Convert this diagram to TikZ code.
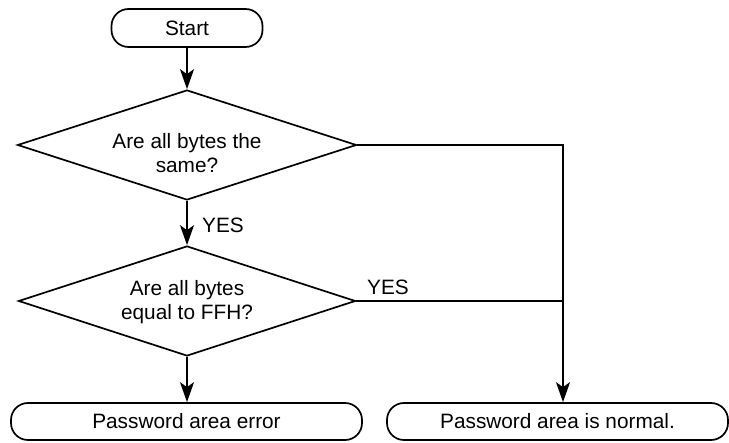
\documentclass[tikz,border=0pt]{standalone}
\usepackage{fontspec}
\setmainfont{Liberation Sans}
\usetikzlibrary{shapes.geometric,arrows.meta}
\begin{document}
\begin{tikzpicture}[x=1pt,y=-1pt,
  every node/.style={font=\fontsize{20.8}{24}\selectfont},
  term/.style={draw,line width=1.7pt,rounded corners=17pt,inner sep=0pt},
  decision/.style={draw,diamond,line width=1.7pt,inner sep=0pt},
  flow/.style={line width=1.8pt,-{Stealth[length=20pt,width=14pt,inset=5pt]}},
  plain/.style={line width=1.8pt},
  lbl/.style={inner sep=0pt,anchor=base west}]
\useasboundingbox (0,0) rectangle (729,443);
\node[term,minimum width=151pt,minimum height=38pt] (start) at (187,28) {Start};
\node[decision,minimum width=339pt,minimum height=110pt] (d1) at (187,145) {};
\node[inner sep=0pt,align=center] (t1) at (187,153.5) {Are all bytes the\\same?};
\node[decision,minimum width=337pt,minimum height=110pt] (d2) at (187,301) {};
\node[inner sep=0pt,align=center] (t2) at (187,302) {Are all bytes\\equal to FFH?};
\node[term,minimum width=351pt,minimum height=37pt] (err) at (186.5,421.5) {Password area error};
\node[term,minimum width=341pt,minimum height=37pt] (ok) at (557.5,421.5) {Password area is normal.};
\coordinate (j1) at (563,145);
\coordinate (j2) at (563,301);
\draw[flow] (start.south) -- (d1.north);
\draw[flow] (d1.south) -- (d2.north);
\node[lbl] (yes1) at (202,233) {YES};
\draw[flow] (d1.east) -- (j1) -- (j1 |- ok.north);
\draw[plain] (d2.east) -- (j2);
\node[lbl] (yes2) at (367,295) {YES};
\draw[flow] (d2.south) -- (d2.south |- err.north);
\end{tikzpicture}
\end{document}
